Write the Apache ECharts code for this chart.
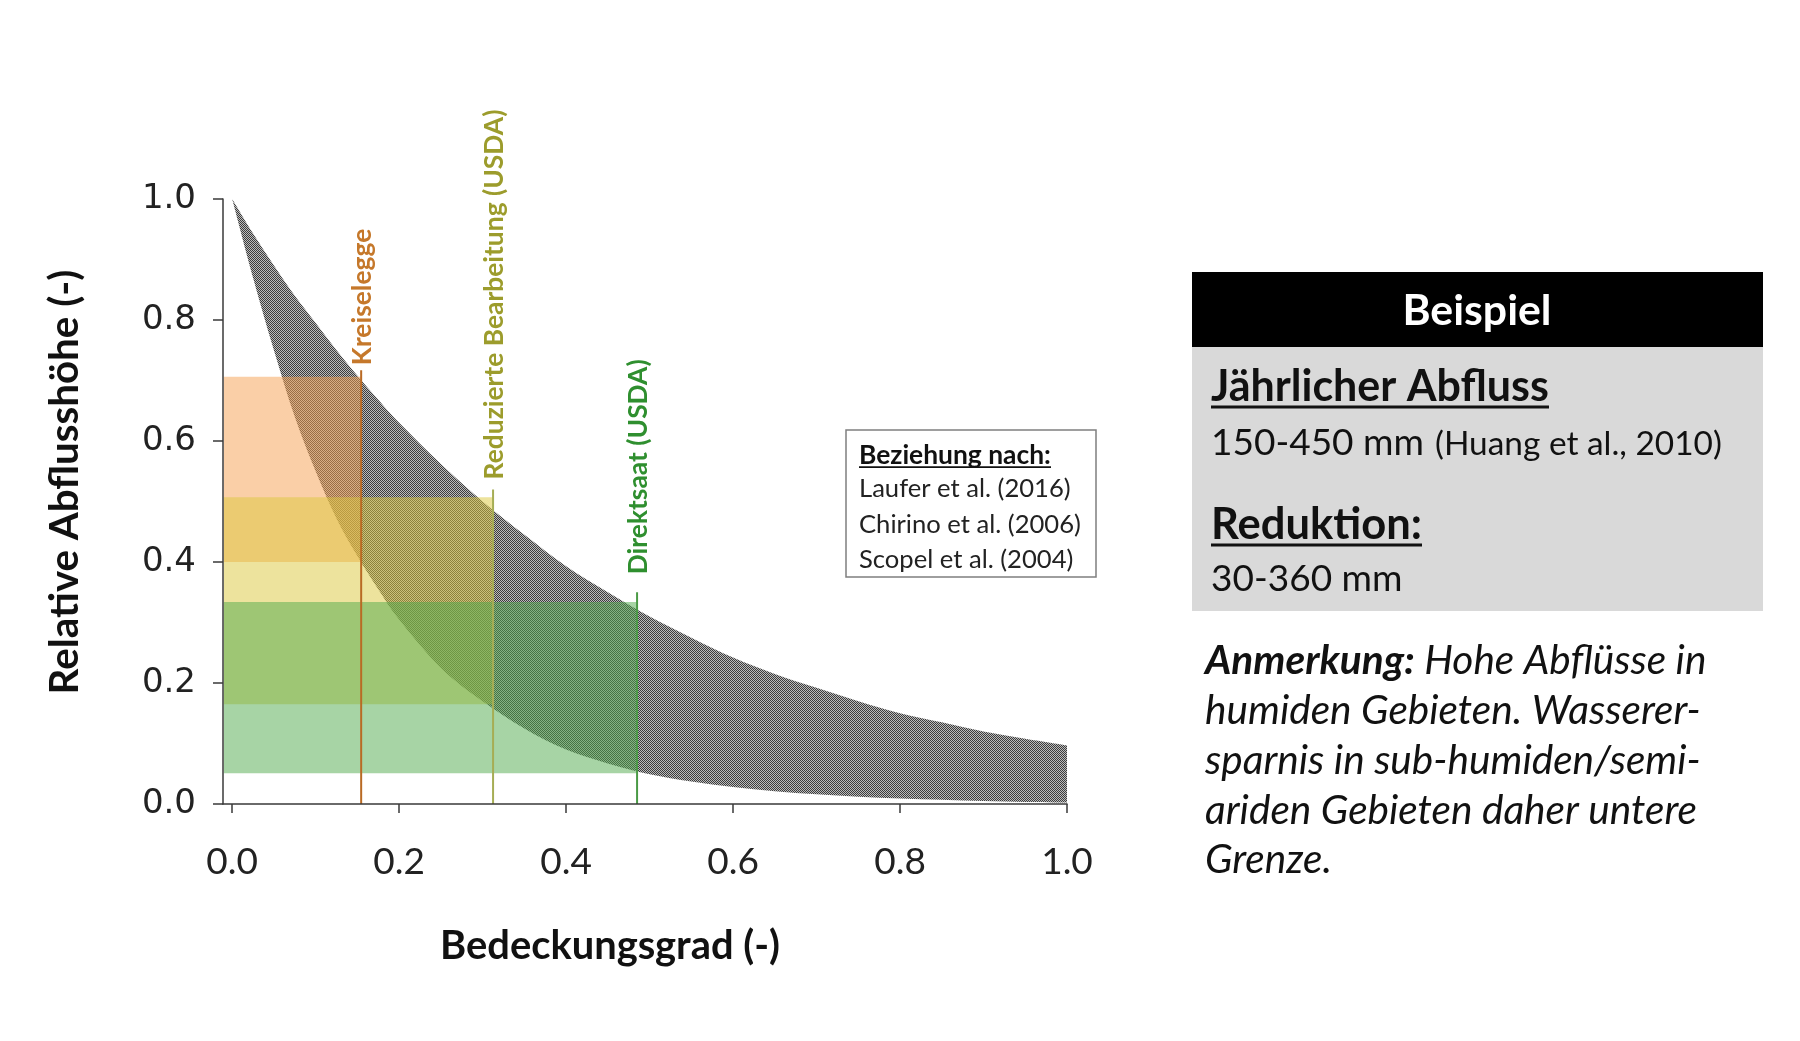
<!DOCTYPE html>
<html><head><meta charset="utf-8">
<script src="https://cdn.jsdelivr.net/npm/echarts@6/dist/echarts.min.js"></script>
<style>html,body{margin:0;padding:0;background:#fff}#c{width:1800px;height:1041px}</style>
</head><body><div id="c"></div>
<script>
// ---------------- data ----------------
const coverX = [0,0.025,0.05,0.075,0.1,0.125,0.15,0.175,0.2,0.25,0.3,0.35,0.4,0.45,0.5,0.55,0.6,0.65,0.7,0.75,0.8,0.85,0.9,0.95,1.0];
const upperRunoff = [1.0,0.943,0.89,0.84,0.795,0.75,0.708,0.668,0.63,0.562,0.50,0.445,0.393,0.35,0.31,0.275,0.242,0.215,0.192,0.17,0.15,0.135,0.12,0.108,0.097];
const lowerRunoff = [1.0,0.87,0.75,0.64,0.55,0.472,0.41,0.355,0.305,0.225,0.17,0.125,0.09,0.067,0.049,0.037,0.028,0.021,0.016,0.012,0.009,0.007,0.005,0.0035,0.0025];
const practices = ['Kreiselegge','Reduzierte Bearbeitung (USDA)','Direktsaat (USDA)'];
const practiceCover = [0.1545,0.3125,0.485];
const practiceLineTop = [0.717,0.52,0.35];
const rangeLow = [0.40,0.165,0.051];
const rangeHigh = [0.706,0.507,0.334];
const xTicks = [0,0.2,0.4,0.6,0.8,1.0];
const legendLines = ['Laufer et al. (2016)','Chirino et al. (2006)','Scopel et al. (2004)'];
const noteLines = ['humiden Gebieten. Wasserer-','sparnis in sub-humiden/semi-','ariden Gebieten daher untere','Grenze.'];

// ---------------- helpers ----------------
const LATO = 'Lato, "Open Sans", sans-serif';
const mctx = document.createElement('canvas').getContext('2d');
function tw(text, weight, style, size, fam){ mctx.font = `${style||'normal'} ${weight||'normal'} ${size}px ${fam||LATO}`; return mctx.measureText(text).width; }
function fit(text, weight, style, target, fam){ return 100*target/tw(text, weight, style, 100, fam); }
// smooth path through pixel points (Catmull-Rom rendered as cubic Beziers)
function curveCmds(p){
  let d = '';
  for (let i=0;i<p.length-1;i++){
    const p0 = p[Math.max(i-1,0)], p1 = p[i], p2 = p[i+1], p3 = p[Math.min(i+2,p.length-1)];
    const c1 = [p1[0]+(p2[0]-p0[0])/6, p1[1]+(p2[1]-p0[1])/6];
    const c2 = [p2[0]-(p3[0]-p1[0])/6, p2[1]-(p3[1]-p1[1])/6];
    d += ` C${c1[0]} ${c1[1]} ${c2[0]} ${c2[1]} ${p2[0]} ${p2[1]}`;
  }
  return d;
}

const X_MIN = -0.011;
const pc = document.createElement('canvas'); pc.width = 2; pc.height = 2;
const pg = pc.getContext('2d');
pg.fillStyle = '#bcbcbc'; pg.fillRect(0,0,2,2);
pg.fillStyle = '#3c3c3c'; pg.fillRect(0,0,1,1); pg.fillRect(1,1,1,1);

const rectFill = ['rgba(245,160,80,0.5)','rgba(220,200,60,0.5)','rgba(80,170,75,0.5)'];
const lineColor = ['#b96a24','#a6ad55','#4a9a45'];
const labelColor = ['#c5782b','#9c9c2c','#2f8f2f'];
const labelGap = [5,10,18];
const vLabelSize = fit(practices[1],'bold','normal',370);

// ---------------- chart ----------------
const chart = echarts.init(document.getElementById('c'));
const axisCol = '#3a3a3a';
const graphics = [];
function txt(text, x, y, size, opts){
  opts = opts || {};
  graphics.push({type:'text', x:x, y:y, rotation:opts.rot||0, z:100,
    style:{text:text, x:0, y:0, fill:opts.fill||'#111', fontFamily:opts.fam||LATO,
      fontSize:size, fontWeight:opts.weight||'normal', fontStyle:opts.style||'normal',
      align:opts.align||'left', verticalAlign:opts.va||'middle', rich:opts.rich}});
}
function uline(x, y, w, lw){
  graphics.push({type:'line', z:100, shape:{x1:x,y1:y,x2:x+w,y2:y}, style:{stroke:'#111', lineWidth:lw}});
}
// axis titles
txt('Relative Abflusshöhe (-)', 65, 482, fit('Relative Abflusshöhe (-)','bold','normal',425), {weight:'bold', align:'center', rot:Math.PI/2});
txt('Bedeckungsgrad (-)', 610, 946, fit('Bedeckungsgrad (-)','bold','normal',340), {weight:'bold', align:'center'});
// reference box
graphics.push({type:'rect', z:90, shape:{x:846,y:430,width:250,height:147}, style:{fill:'#fff', stroke:'#7f7f7f', lineWidth:1.5}});
const legSize = fit(legendLines[1],'normal','normal',222);
const legBold = fit('Beziehung nach:','bold','normal',192);
txt('Beziehung nach:', 859, 464 - 0.32*legBold, legBold, {weight:'bold'});
uline(859, 464 + 0.12*legBold, 192, 1.6);
legendLines.forEach((t,i)=> txt(t, 859, 497 + i*35.5 - 0.32*legSize, legSize, {fill:'#222'}));
// right panel
graphics.push({type:'rect', z:90, shape:{x:1192,y:272,width:571,height:75}, style:{fill:'#000'}});
graphics.push({type:'rect', z:90, shape:{x:1192,y:347,width:571,height:264}, style:{fill:'#d9d9d9'}});
txt('Beispiel', 1477, 311, fit('Beispiel','bold','normal',149), {weight:'bold', align:'center', fill:'#fff'});
const s1 = fit('Jährlicher Abfluss','bold','normal',338);
txt('Jährlicher Abfluss', 1211, 401 - 0.32*s1, s1, {weight:'bold'});
uline(1211, 407, 338, 3);
const s2 = fit('150-450 mm','normal','normal',213);
txt('150-450 mm', 1211, 455 - 0.32*s2, s2);
const s3 = fit('(Huang et al., 2010)','normal','normal',287);
txt('(Huang et al., 2010)', 1435, 455 - 0.32*s3, s3);
const s4 = fit('Reduktion:','bold','normal',211);
txt('Reduktion:', 1211, 539 - 0.32*s4, s4, {weight:'bold'});
uline(1211, 545, 211, 3);
txt('30-360 mm', 1211, 591 - 0.32*s2, s2);
// annotation
const ns = fit(noteLines[0],'normal','italic',496);
txt('{a|Anmerkung:}{b| Hohe Abflüsse in}', 1205, 674 - 0.32*ns, ns, {style:'italic',
  rich:{a:{fontWeight:'bold', fontStyle:'italic', fontSize:ns, fontFamily:LATO, fill:'#111'},
        b:{fontStyle:'italic', fontSize:ns, fontFamily:LATO, fill:'#111'}}});
noteLines.forEach((t,i)=> txt(t, 1205, 724 + i*49.7 - 0.32*ns, ns, {style:'italic'}));

const option = {
  animation:false,
  backgroundColor:'#fff',
  grid:{left:223, right:733, top:199, bottom:237},
  xAxis:{type:'value', min:X_MIN, max:1, z:5,
    axisLine:{show:true, onZero:false, lineStyle:{color:axisCol, width:1.5}},
    axisTick:{show:true, length:9, customValues:xTicks, lineStyle:{color:axisCol, width:1.5}},
    axisLabel:{customValues:xTicks, formatter:v=>v.toFixed(1), margin:40, fontFamily:LATO, fontSize:37, color:'#222'},
    splitLine:{show:false}},
  yAxis:{type:'value', min:0, max:1, interval:0.2, z:5,
    axisLine:{show:true, onZero:false, lineStyle:{color:axisCol, width:1.5}},
    axisTick:{show:true, length:10, lineStyle:{color:axisCol, width:1.5}},
    axisLabel:{formatter:v=>v.toFixed(1), margin:27, fontFamily:'"DejaVu Sans", Verdana, sans-serif', fontSize:34, color:'#222'},
    splitLine:{show:false}},
  series:[
    {type:'custom', name:'band', z:1, clip:true, silent:true,
     data:coverX.map((x,i)=>[x, lowerRunoff[i], upperRunoff[i]]),
     renderItem:function(params, api){
       if (params.dataIndex !== 0) return null;
       const up = coverX.map((x,i)=>api.coord([x, upperRunoff[i]]));
       const lo = coverX.map((x,i)=>api.coord([x, lowerRunoff[i]])).reverse();
       const d = `M${up[0][0]} ${up[0][1]}` + curveCmds(up) + ` L${lo[0][0]} ${lo[0][1]}` + curveCmds(lo) + ' Z';
       return {type:'path', shape:{pathData:d}, style:{fill:{image:pc, repeat:'repeat'}}};
     }},
    {type:'custom', name:'ranges', z:2,
     data:practiceCover.map((c,i)=>[c, rangeLow[i], rangeHigh[i]]),
     renderItem:function(params, api){
       const i = params.dataIndex;
       const p0 = api.coord([X_MIN, api.value(2)]);
       const p1 = api.coord([api.value(0), api.value(1)]);
       return {type:'rect', shape:{x:p0[0]+0.75, y:p0[1], width:p1[0]-p0[0]-0.75, height:p1[1]-p0[1]}, style:{fill:rectFill[i]}};
     }},
    {type:'custom', name:'practices', z:3, clip:false,
     data:practiceCover.map((c,i)=>[c, practiceLineTop[i]]),
     renderItem:function(params, api){
       const i = params.dataIndex;
       const pTop = api.coord([api.value(0), api.value(1)]);
       const pBot = api.coord([api.value(0), 0]);
       return {type:'group', children:[
         {type:'line', shape:{x1:pBot[0], y1:pBot[1], x2:pTop[0], y2:pTop[1]}, style:{stroke:lineColor[i], lineWidth:2}},
         {type:'text', x:pTop[0]+1, y:pTop[1]-labelGap[i], rotation:Math.PI/2,
          style:{text:practices[i], x:0, y:0, align:'left', verticalAlign:'middle', fill:labelColor[i],
                 fontFamily:LATO, fontWeight:'bold', fontSize:vLabelSize}}
       ]};
     }}
  ],
  graphic:graphics
};
chart.setOption(option);
</script></body></html>
